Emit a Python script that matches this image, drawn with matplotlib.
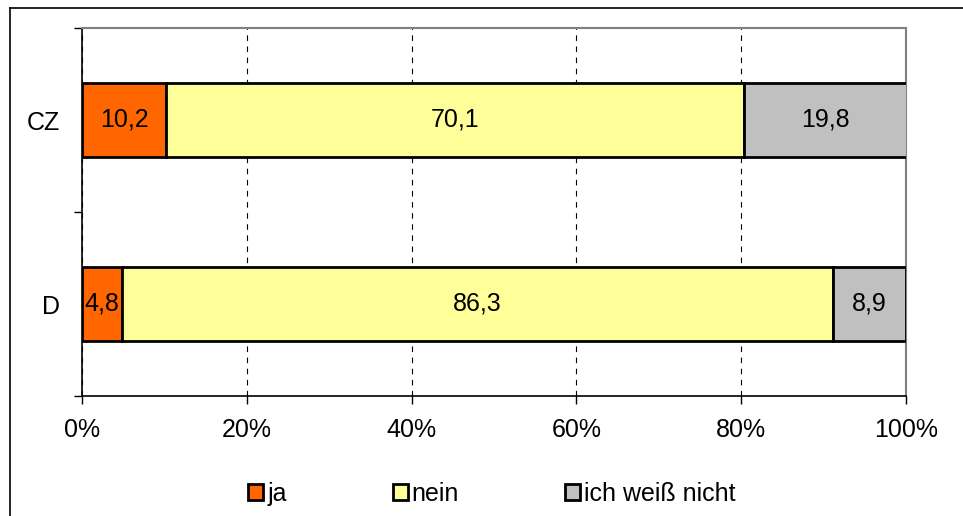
import matplotlib.pyplot as plt
from matplotlib.lines import Line2D
from matplotlib.patches import Patch

plt.rcParams['font.family'] = ['Liberation Sans', 'DejaVu Sans']

laender = ['D', 'CZ']
ja = [4.8, 10.2]
nein = [86.3, 70.1]
weiss_nicht = [8.9, 19.8]
serien = ['ja', 'nein', 'ich weiß nicht']
farben = ['#FF6600', '#FFFF99', '#C0C0C0']

fs = 18

fig = plt.figure(figsize=(9.63, 5.16), dpi=100)
ax = fig.add_axes([82/963, 1-396/516, 824/963, 368/516])

links = [0, 0]
for werte, farbe in zip([ja, nein, weiss_nicht], farben):
    balken = ax.barh(range(len(laender)), werte, left=links, height=0.4,
                     color=farbe, edgecolor='black', linewidth=2, zorder=3)
    for b, w in zip(balken, werte):
        ax.text(b.get_x() + b.get_width()/2, b.get_y() + b.get_height()/2,
                ('%.1f' % w).replace('.', ','), ha='center', va='center',
                fontsize=fs, zorder=4)
    links = [l + w for l, w in zip(links, werte)]

ax.set_xlim(0, 100)
ax.set_ylim(-0.5, 1.5)
ax.set_xticks([0, 20, 40, 60, 80, 100])
ax.set_xticklabels(['0%', '20%', '40%', '60%', '80%', '100%'], fontsize=fs)
ax.set_yticks([0, 1])
ax.set_yticklabels(laender, fontsize=fs)
ax.set_yticks([-0.5, 0.5, 1.5], minor=True)
ax.tick_params(axis='y', which='major', length=0, pad=16)
ax.tick_params(axis='y', which='minor', length=6, width=1)
ax.tick_params(axis='x', length=6, width=1, pad=10)
ax.xaxis.grid(True, linestyle=(0, (5, 5)), color='black', linewidth=0.8, zorder=0)
for s in ['top', 'right']:
    ax.spines[s].set_color('#808080')
    ax.spines[s].set_linewidth(1.5)
for s in ['left', 'bottom']:
    ax.spines[s].set_linewidth(1.2)

handles = [Patch(facecolor=f, edgecolor='black', linewidth=2) for f in farben]
fig.legend(handles, serien, loc='center', bbox_to_anchor=(492/963, 1-494/516),
           ncol=3, frameon=False, fontsize=fs, handlelength=0.6, handleheight=0.6,
           handletextpad=0.15, columnspacing=4.25)

fig.add_artist(Line2D([10/963, 10/963], [0, 1-8/516], color='black', linewidth=1.2))
fig.add_artist(Line2D([10/963, 1], [1-8/516, 1-8/516], color='black', linewidth=1.2))

fig.savefig('out.png', dpi=100)
